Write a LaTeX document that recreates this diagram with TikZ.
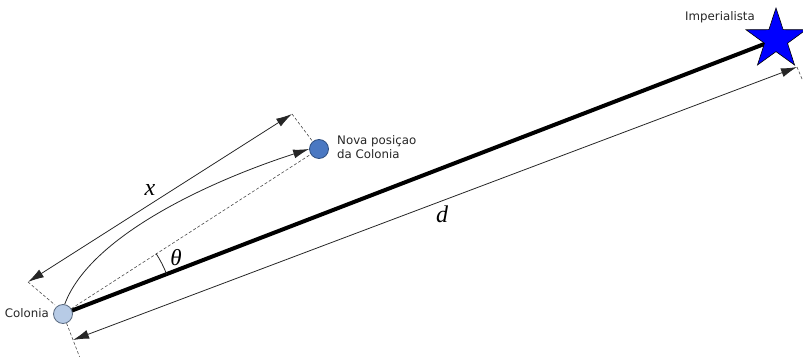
\documentclass[tikz,border=0pt]{standalone}
\usepackage{fontspec}
\setmainfont{DejaVu Sans}
\newfontfamily\varfont{Liberation Serif}
\usetikzlibrary{arrows.meta,shapes.geometric,calc}
\definecolor{colfill}{HTML}{B7CBE6}
\definecolor{colborder}{HTML}{5A6A80}
\definecolor{novafill}{HTML}{4A78C2}
\definecolor{novaborder}{HTML}{2F4F80}
\begin{document}
\begin{tikzpicture}[x=1pt,y=1pt,
  thinline/.style={line width=0.8pt, draw=black!85},
  dashline/.style={line width=0.6pt, draw=black!70, dash pattern=on 3pt off 2pt},
  tip/.style={-{Latex[length=16pt,width=9pt]}},
  dimarrow/.style={thinline, {Latex[length=16pt,width=9pt]}-{Latex[length=16pt,width=9pt]}},
  lbl/.style={font=\fontsize{11.8}{14}\selectfont, text=black!85, inner sep=0pt},
  var/.style={font=\varfont\itshape\fontsize{24}{24}\selectfont, inner sep=0pt},
  dot/.style={circle, minimum size=19pt, inner sep=0pt, line width=0.8pt},
  starnode/.style={star, star points=5, star point ratio=2.6, minimum size=63pt, inner sep=0pt,
      fill=blue, draw=black, line width=0.6pt}]
\useasboundingbox (0,0) rectangle (803,356);

% coordinates of main elements
\coordinate (colc) at (63,42);
\coordinate (impc) at (776,316.5);

% thick line colonia -> imperialista (drawn first, under the shapes)
\draw[line width=4pt, black] (colc) -- (impc);

\node[dot, fill=colfill, draw=colborder] (col) at (colc) {};
\node[dot, fill=novafill, draw=novaborder] (nova) at (319,207) {};
\node[starnode] (imp) at (impc) {};

% dimension coordinates
\coordinate (d1) at (73,16);
\coordinate (d2) at (797,289);
\coordinate (x1) at (28,74);
\coordinate (x2) at (292,242);
\coordinate (e1) at (80,-2);
\coordinate (e2) at (55,51);
\coordinate (e3) at (802,277);
\coordinate (e4) at (313,214);

% extension lines
\draw[dashline] (col) -- (e1);
\draw[dashline] (x1) -- (e2);
\draw[dashline] (x2) -- (e4);
\draw[dashline] (d2) -- (e3);

% dashed line colonia -> nova
\draw[dashline] (col) -- (nova);

% dimension arrows
\draw[dimarrow] (d1) -- (d2);
\draw[dimarrow] (x1) -- (x2);

% curved path
\draw[thinline, tip] (col.80) .. controls (90,120) and (210,175) .. (nova.west);

% angle arc
\draw[thinline] ($(colc)+(21:111)$) arc (21:33:111);

% labels
\node[var] (lx) at (150,166) {x};
\node[var] (ld) at (442,142) {d};
\node[var, font=\varfont\itshape\fontsize{23}{23}\selectfont] (lt) at (176,98) {θ};
\node[lbl, anchor=east] (lcol) at (49,43) {Colonia};
\node[lbl, anchor=west, align=left] (lnova) at (337,209) {Nova posiçao\\da Colonia};
\node[lbl] (limp) at (720,339) {Imperialista};
\end{tikzpicture}
\end{document}
